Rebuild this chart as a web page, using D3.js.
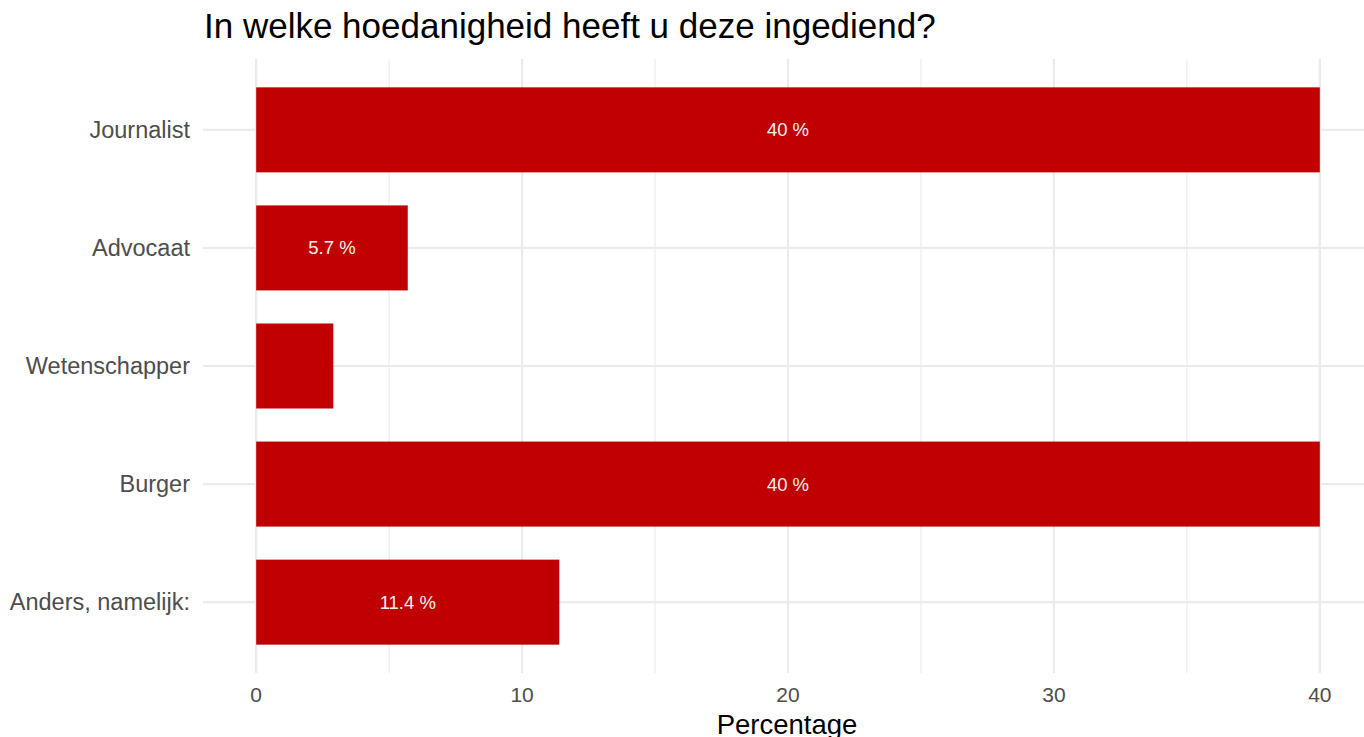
<!DOCTYPE html>
<html><head><meta charset="utf-8">
<script src="https://cdn.jsdelivr.net/npm/d3@7"></script>
<style>body{margin:0;background:#fff}svg{display:block}text{font-family:"Liberation Sans",Arial,sans-serif}</style>
</head><body>
<svg id="c" width="1364" height="737"></svg>
<script>
const categories = ["Journalist","Advocaat","Wetenschapper","Burger","Anders, namelijk:"];
const values = [40, 5.7, 2.9, 40, 11.4];
const labels = ["40 %","5.7 %","","40 %","11.4 %"];
const xTicks = [0,10,20,30,40];
const minorTicks = [5,15,25,35];
const title = "In welke hoedanigheid heeft u deze ingediend?";
const xTitle = "Percentage";

const svg = d3.select("#c");
const panel = {left:203, right:1373, top:59, bottom:673};
const x = d3.scaleLinear().domain([-2,42]).range([panel.left, panel.right]);
const y = d3.scaleBand().domain(categories).range([panel.top, panel.bottom]).paddingInner(0).paddingOuter(0.1);
const barH = y.step()*0.72;

const g = svg.append("g");
g.selectAll(".minor").data(minorTicks).join("line")
  .attr("x1",d=>x(d)).attr("x2",d=>x(d)).attr("y1",panel.top).attr("y2",panel.bottom)
  .attr("stroke","#ebebeb").attr("stroke-width",1.1);
g.selectAll(".major").data(xTicks).join("line")
  .attr("x1",d=>x(d)).attr("x2",d=>x(d)).attr("y1",panel.top).attr("y2",panel.bottom)
  .attr("stroke","#ebebeb").attr("stroke-width",2.2);
g.selectAll(".hgrid").data(categories).join("line")
  .attr("x1",panel.left).attr("x2",panel.right)
  .attr("y1",d=>y(d)+y.bandwidth()/2).attr("y2",d=>y(d)+y.bandwidth()/2)
  .attr("stroke","#ebebeb").attr("stroke-width",2.2);

g.selectAll(".bar").data(categories).join("rect")
  .attr("x",x(0)).attr("width",(d,i)=>x(values[i])-x(0))
  .attr("y",d=>y(d)+y.bandwidth()/2-barH/2).attr("height",barH)
  .attr("fill","#c00000");

g.selectAll(".lbl").data(categories).join("text")
  .attr("x",(d,i)=>x(values[i]/2)).attr("y",d=>y(d)+y.bandwidth()/2)
  .attr("dy","0.35em").attr("text-anchor","middle")
  .attr("fill","#f2f2f2").attr("font-size",18.5)
  .text((d,i)=>labels[i]);

g.selectAll(".ylab").data(categories).join("text")
  .attr("x",190).attr("y",d=>y(d)+y.bandwidth()/2).attr("dy","0.35em")
  .attr("text-anchor","end").attr("fill","#4d4d4d").attr("font-size",23.5)
  .text(d=>d);

g.selectAll(".xlab").data(xTicks).join("text")
  .attr("x",d=>x(d)).attr("y",702).attr("text-anchor","middle")
  .attr("fill","#4d4d4d").attr("font-size",21).text(d=>d);

svg.append("text").attr("x",(panel.left+panel.right)/2-1).attr("y",734)
  .attr("text-anchor","middle").attr("font-size",27.5).attr("fill","#000").text(xTitle);

svg.append("text").attr("x",204).attr("y",38).attr("font-size",35).attr("fill","#000").text(title);
</script>
</body></html>
